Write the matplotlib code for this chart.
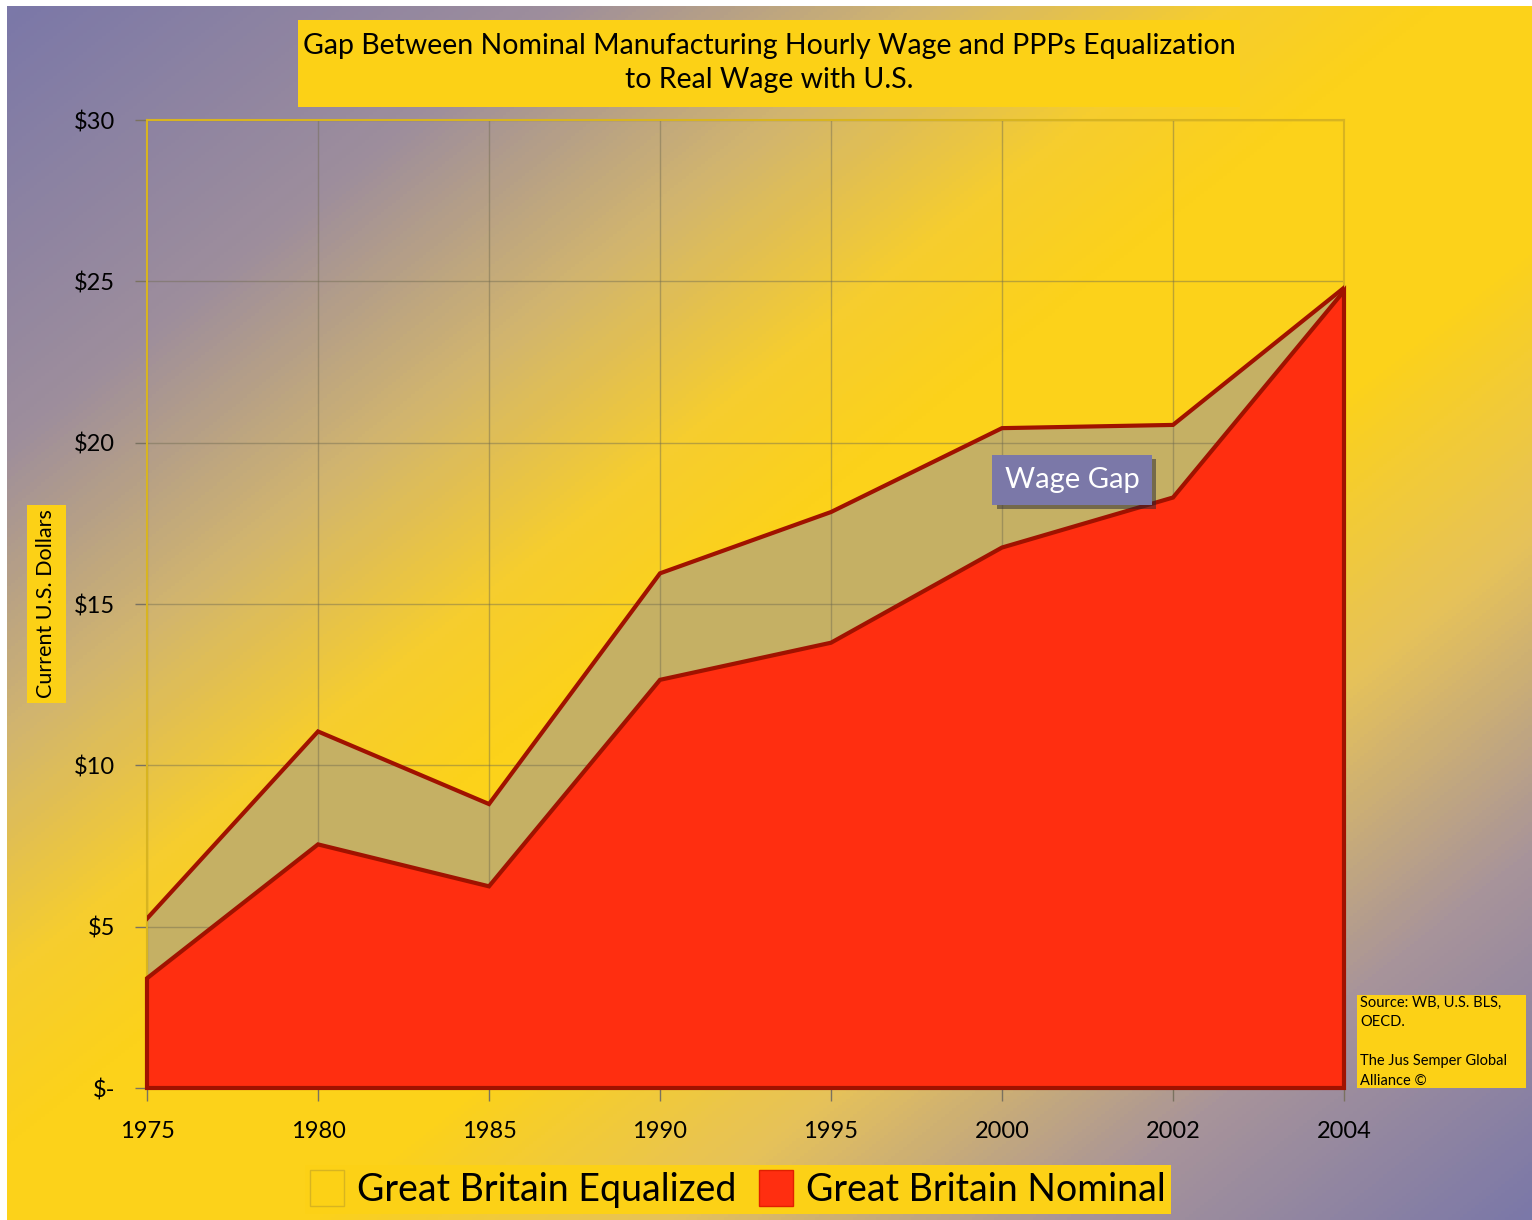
import matplotlib.pyplot as plt
import matplotlib.patheffects as pe
from matplotlib.colors import LinearSegmentedColormap
from matplotlib.patches import Rectangle
import numpy as np

years = ['1975', '1980', '1985', '1990', '1995', '2000', '2002', '2004']
equalized = [5.25, 11.05, 8.8, 15.95, 17.85, 20.45, 20.55, 24.8]
nominal = [3.4, 7.55, 6.25, 12.65, 13.8, 16.75, 18.3, 24.7]
yticks = [0, 5, 10, 15, 20, 25, 30]
ytick_labels = ['$-', '$5', '$10', '$15', '$20', '$25', '$30']

YELLOW = '#fcd116'
PURPLE = '#7b78a8'
plt.rcParams['font.family'] = ['Lato', 'DejaVu Sans']

W, H = 1532, 1220
fig = plt.figure(figsize=(W / 100, H / 100), dpi=100)
fig.patch.set_facecolor('white')


def fbox(x0, y0, x1, y1, color=YELLOW):
    # box given in pixels from the top-left corner
    fig.patches.append(Rectangle((x0 / W, 1 - y1 / H), (x1 - x0) / W, (y1 - y0) / H,
                                 transform=fig.transFigure, fc=color, ec='none', zorder=5))


# diagonal background gradient
bg = fig.add_axes([7 / W, 0, 1 - 7 / W, 1 - 6 / H])
bg.set_axis_off()
u = np.linspace(0, 1, 400)
U, V = np.meshgrid(u, u)
t = (U + V) / 2
cmap = LinearSegmentedColormap.from_list('bg', [
    (0.0, PURPLE), (0.18, '#9e8e9c'), (0.30, '#d2b56e'), (0.40, '#f6cd2e'),
    (0.47, '#fcd21a'), (0.60, '#fcd21a'), (0.72, '#e6c25a'),
    (0.85, '#a8949a'), (1.0, PURPLE)])
bg.imshow(t, cmap=cmap, aspect='auto', extent=[0, 1, 0, 1], origin='upper')
bg.set_xlim(0, 1)
bg.set_ylim(0, 1)

ax = fig.add_axes([147 / W, 1 - 1088 / H, (1344 - 147) / W, (1088 - 120) / H])
ax.patch.set_alpha(0)
x = np.arange(len(years))

edge = '#a01200'
ax.fill(np.r_[x, x[::-1]], np.r_[equalized, np.zeros(len(x))], color='#c5b064',
        zorder=1, clip_on=False)
ax.plot(x, equalized, color=edge, lw=3, zorder=4, solid_joinstyle='miter')
ax.fill(np.r_[x, x[::-1]], np.r_[nominal, np.zeros(len(x))], facecolor='#ff2e10',
        edgecolor=edge, lw=3, zorder=3, clip_on=False, joinstyle='miter')

ax.set_xlim(0, len(years) - 1)
ax.set_ylim(0, 30)
ax.set_xticks(x)
ax.set_xticklabels(years, fontsize=17)
ax.set_yticks(yticks)
ax.set_yticklabels(ytick_labels, fontsize=17)
ax.grid(True, color='#6f6a50', alpha=0.45, lw=1)
for g in ax.get_xgridlines() + ax.get_ygridlines():
    g.set_zorder(2)
ax.tick_params(axis='both', colors='#7a7260', length=9, width=1, labelcolor='black', pad=14)
ax.tick_params(axis='x', pad=15)
for s in ['left', 'top', 'right', 'bottom']:
    ax.spines[s].set_color('#d8b420')
    ax.spines[s].set_linewidth(1.5)

# title
fbox(298, 20, 1240, 107)
fig.text(769 / W, 1 - 63 / H,
         'Gap Between Nominal Manufacturing Hourly Wage and PPPs Equalization\nto Real Wage with U.S.',
         ha='center', va='center', fontsize=20.5, linespacing=1.38, zorder=6)

# y label
fbox(27, 505, 66, 703)
fig.text(46 / W, 1 - 604 / H, 'Current U.S. Dollars', rotation=90, ha='center', va='center',
         fontsize=15.5, zorder=6)

# wage gap label
fig.text(1072 / W, 1 - 480 / H, 'Wage Gap', ha='center', va='center', fontsize=21,
         color='white', zorder=6,
         bbox=dict(boxstyle='square,pad=0.42', fc=PURPLE, ec='none',
                   path_effects=[pe.SimplePatchShadow(offset=(3, -3), alpha=0.5), pe.Normal()]))

# source box
fbox(1357, 995, 1526, 1088)
fig.text(1360 / W, 1 - 996 / H, 'Source: WB, U.S. BLS,\nOECD.\n\nThe Jus Semper Global\nAlliance ©',
         ha='left', va='top', fontsize=10.5, linespacing=1.5, zorder=6)

# legend
leg = fig.legend(handles=[Rectangle((0, 0), 1, 1, fc=YELLOW, ec='#d8b420', lw=1),
                          Rectangle((0, 0), 1, 1, fc='#ff2e10', ec='#e02000', lw=1)],
                 labels=['Great Britain Equalized', 'Great Britain Nominal'],
                 loc='center', bbox_to_anchor=(738 / W, 1 - 1189 / H), ncol=2,
                 fontsize=27, frameon=True, fancybox=False, handlelength=0.9,
                 handleheight=1.1, handletextpad=0.35, columnspacing=0.6,
                 borderpad=0.15, borderaxespad=0)
leg.get_frame().set_facecolor(YELLOW)
leg.get_frame().set_edgecolor('none')
leg.get_frame().set_alpha(1)

fig.savefig('out.png', dpi=100)
